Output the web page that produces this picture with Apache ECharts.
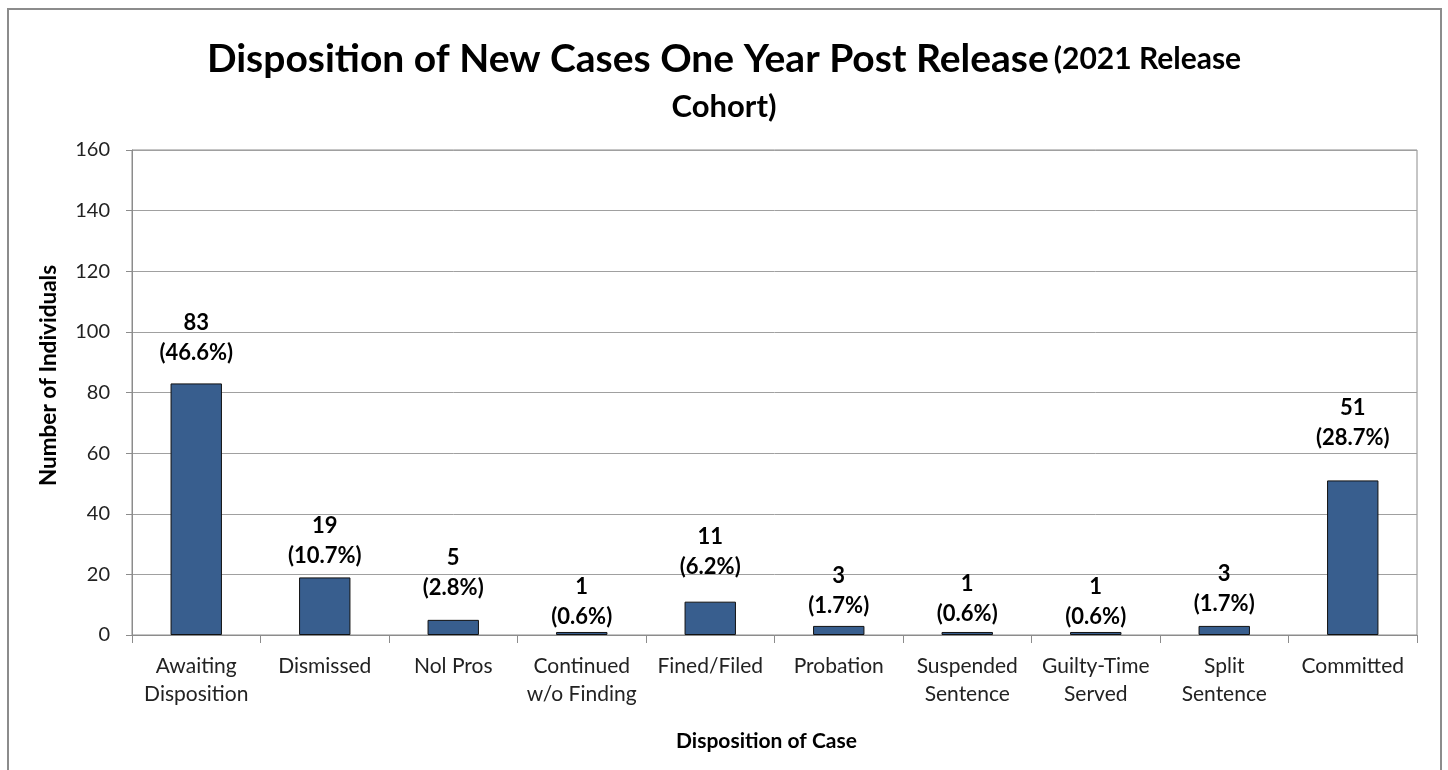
<!DOCTYPE html>
<html>
<head>
<meta charset="utf-8">
<script src="https://cdn.jsdelivr.net/npm/echarts@6/dist/echarts.min.js"></script>
<style>
  html, body { margin: 0; padding: 0; background: #fff; }
  #chart { width: 1448px; height: 770px; }
</style>
</head>
<body>
<div id="chart"></div>
<script>
// Case dispositions for the 2021 release cohort
const categories = [
  'Awaiting\nDisposition', 'Dismissed', 'Nol Pros', 'Continued\nw/o Finding',
  'Fined/Filed', 'Probation', 'Suspended\nSentence', 'Guilty-Time\nServed',
  'Split\nSentence', 'Committed'
];
const counts = [83, 19, 5, 1, 11, 3, 1, 1, 3, 51];
const percents = ['46.6%', '10.7%', '2.8%', '0.6%', '6.2%', '1.7%', '0.6%', '0.6%', '1.7%', '28.7%'];
const yTicks = [0, 20, 40, 60, 80, 100, 120, 140, 160];

// gap between each bar top and its label, in px
const labelGap = [16, 7, 17, 0, 20, 5, 3, 0, 7, 28];

const FONT = 'Lato, "Open Sans", sans-serif';

const chart = echarts.init(document.getElementById('chart'), null, { renderer: 'canvas' });

chart.setOption({
  backgroundColor: '#ffffff',
  animation: false,
  title: [{
    left: 'center',
    top: 31,
    text: '{a|Disposition of New Cases One Year Post Release} {b|(2021 Release}',
    textStyle: {
      rich: {
        a: { fontFamily: FONT, fontWeight: 'bold', fontSize: 39, color: '#000', lineHeight: 46 },
        b: { fontFamily: FONT, fontWeight: 'bold', fontSize: 30, color: '#000', lineHeight: 46 }
      }
    }
  }, {
    left: 'center',
    top: 84,
    text: 'Cohort)',
    textStyle: { fontFamily: FONT, fontWeight: 'bold', fontSize: 31, color: '#000', lineHeight: 36 }
  }],
  graphic: [{
    type: 'rect',
    shape: { x: 8, y: 9, width: 1433, height: 800 },
    style: { fill: 'none', stroke: '#8c8c8c', lineWidth: 2 },
    silent: true
  }],
  grid: { left: 132, right: 31, top: 150, bottom: 135, containLabel: false,
          show: true, borderColor: '#8c8c8c', borderWidth: 1 },
  xAxis: {
    type: 'category',
    data: categories,
    name: 'Disposition of Case',
    nameLocation: 'middle',
    nameGap: 96,
    nameTextStyle: { fontFamily: FONT, fontWeight: 'bold', fontSize: 21, color: '#000',
                     padding: [0, 16, 0, 0] },
    axisLine: { lineStyle: { color: '#8c8c8c', width: 1 } },
    axisTick: { show: true, length: 8, alignWithLabel: false, lineStyle: { color: '#8c8c8c' } },
    axisLabel: {
      interval: 0, margin: 17, fontFamily: FONT, fontSize: 21, color: '#222',
      lineHeight: 28
    }
  },
  yAxis: {
    type: 'value',
    min: yTicks[0],
    max: yTicks[yTicks.length - 1],
    interval: yTicks[1] - yTicks[0],
    name: 'Number of Individuals',
    nameLocation: 'middle',
    nameGap: 72,
    nameRotate: 90,
    nameTextStyle: { fontFamily: FONT, fontWeight: 'bold', fontSize: 22.5, color: '#000',
                     padding: [0, 0, 0, 34] },
    axisLine: { show: true, lineStyle: { color: '#8c8c8c', width: 1 } },
    axisTick: { show: true, length: 6, lineStyle: { color: '#8c8c8c' } },
    axisLabel: { margin: 22, fontFamily: FONT, fontSize: 20, color: '#222' },
    splitLine: { lineStyle: { color: '#a0a0a0', width: 1 } }
  },
  series: [{
    type: 'bar',
    barWidth: '40%',
    data: counts.map((v, i) => ({
      value: v,
      label: { distance: labelGap[i] }
    })),
    itemStyle: { color: '#385E8E', borderColor: '#111', borderWidth: 1 },
    label: {
      show: true,
      position: 'top',
      fontFamily: FONT,
      fontWeight: 'bold',
      fontSize: 22,
      color: '#000',
      lineHeight: 30,
      formatter: p => counts[p.dataIndex] + '\n(' + percents[p.dataIndex] + ')'
    }
  }]
});
</script>
</body>
</html>
